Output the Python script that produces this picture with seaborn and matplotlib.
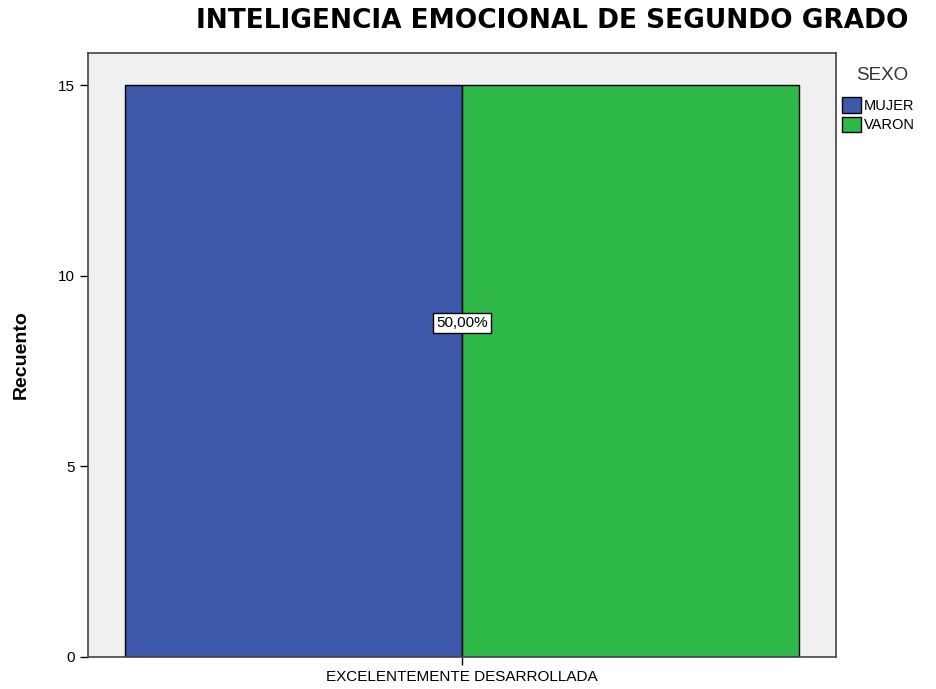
import matplotlib
matplotlib.use("Agg")
import matplotlib.pyplot as plt
import seaborn as sns
import pandas as pd

categories = ["EXCELENTEMENTE DESARROLLADA"]
sexo = ["MUJER", "VARON"]
counts = [15, 15]
pct_label = "50,00%"

df = pd.DataFrame({"cat": categories * 2, "SEXO": sexo, "Recuento": counts})

sns.set_style("white")
plt.rcParams['font.family'] = ['Liberation Sans', 'DejaVu Sans']
plt.rcParams['text.color'] = 'black'
plt.rcParams['axes.labelcolor'] = 'black'
plt.rcParams['xtick.color'] = 'black'
plt.rcParams['ytick.color'] = 'black'

fig = plt.figure(figsize=(9.36, 6.89), dpi=100)
ax = fig.add_axes([88/936, 32/689, 748/936, 604/689])
ax.set_facecolor("#F0F0F0")

palette = {"MUJER": "#3E58AC", "VARON": "#2EB848"}
sns.barplot(data=df, x="cat", y="Recuento", hue="SEXO", palette=palette,
            width=0.9, edgecolor="black", linewidth=1, ax=ax, saturation=1)

ax.set_xlim(-0.5, 0.5)
ax.set_ylim(0, 15.84)
ax.set_yticks([0, 5, 10, 15])
ax.set_yticklabels(["0", "5", "10", "15"])
ax.tick_params(axis="both", direction="out", length=6, width=1, colors="black", labelsize=11)
ax.tick_params(axis="y", left=True)
ax.tick_params(axis="x", bottom=True)
ax.set_xlabel("")
ax.set_ylabel("Recuento", fontsize=14, fontweight="bold")
ax.yaxis.set_label_coords(-58/748, 0.5)
for s in ax.spines.values():
    s.set_color("#444444")
    s.set_linewidth(1.2)

ax.text(0, 8.76, pct_label, ha="center", va="center", fontsize=11,
        bbox=dict(boxstyle="square,pad=0.2", facecolor="white", edgecolor="black", linewidth=1))

fig.text(552/936, 1 - 21/689, "INTELIGENCIA EMOCIONAL DE SEGUNDO GRADO",
         ha="center", va="center", fontsize=19, fontweight="bold",
         family=["DejaVu Sans"])

fig.text(882/936, 1 - 75/689, "SEXO", ha="center", va="center",
         fontsize=13.5, color="#333333")

leg = ax.legend(loc="upper left",
                bbox_to_anchor=(842/936, 1 - 97/689), bbox_transform=fig.transFigure,
                frameon=False, fontsize=10.5,
                handlelength=1.3, handleheight=1.3, handletextpad=0.2,
                borderaxespad=0.0, borderpad=0.0, labelspacing=0.25)

fig.savefig("out.png", dpi=100)
